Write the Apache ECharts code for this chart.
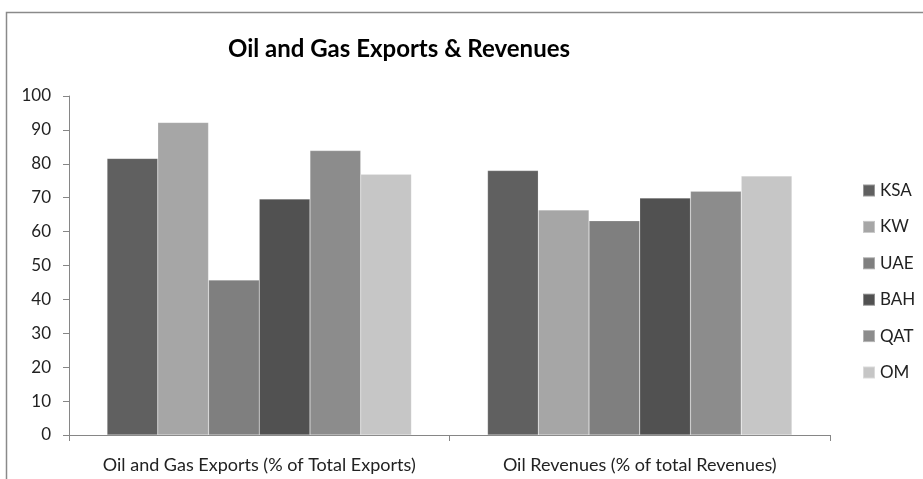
<!DOCTYPE html>
<html><head><meta charset="utf-8">
<script src="https://cdn.jsdelivr.net/npm/echarts@6/dist/echarts.min.js"></script>
<style>html,body{margin:0;padding:0;background:#fff}#c{width:923px;height:479px}</style>
</head><body><div id="c"></div>
<script>
const categories = ['Oil and Gas Exports (% of Total Exports)', 'Oil Revenues (% of total Revenues)'];
const seriesNames = ['KSA', 'KW', 'UAE', 'BAH', 'QAT', 'OM'];
const KSA = [81.6, 78.0];
const KW  = [92.2, 66.4];
const UAE = [45.7, 63.2];
const BAH = [69.6, 69.9];
const QAT = [83.9, 71.9];
const OM  = [76.9, 76.4];
const yTicks = [0, 10, 20, 30, 40, 50, 60, 70, 80, 90, 100];

const values = [KSA, KW, UAE, BAH, QAT, OM];
const colors = ['#606060', '#a6a6a6', '#7f7f7f', '#515151', '#8c8c8c', '#c6c6c6'];
const font = 'Lato, "Open Sans", sans-serif';

const chart = echarts.init(document.getElementById('c'), null, {renderer: 'canvas'});
chart.setOption({
  animation: false,
  backgroundColor: '#fff',
  graphic: [{
    type: 'rect', left: 4, top: 10,
    shape: {width: 1000, height: 1000},
    style: {fill: 'none', stroke: '#8a8a8a', lineWidth: 1.5},
    silent: true, z: -1
  }],
  title: {
    text: 'Oil and Gas Exports & Revenues',
    left: 394, textAlign: 'center', top: 32,
    textStyle: {fontFamily: font, fontWeight: 'bold', fontSize: 24, color: '#000'}
  },
  legend: {
    orient: 'vertical', left: 857, top: 177,
    itemWidth: 12, itemHeight: 12, itemGap: 19.4,
    icon: 'rect',
    textStyle: {fontFamily: font, fontSize: 17, color: '#222'},
    data: seriesNames
  },
  grid: {left: 69, right: 93, top: 96, bottom: 44, containLabel: false},
  xAxis: {
    type: 'category', data: categories,
    axisLine: {lineStyle: {color: '#868686'}},
    axisTick: {show: true, length: 6, lineStyle: {color: '#868686'}},
    axisLabel: {interval: 0, fontFamily: font, fontSize: 18, color: '#222', margin: 21}
  },
  yAxis: {
    type: 'value', min: 0, max: 100, interval: 10,
    axisLine: {show: true, lineStyle: {color: '#868686'}},
    axisTick: {show: true, length: 6, lineStyle: {color: '#868686'}},
    splitLine: {show: false},
    axisLabel: {fontFamily: font, fontSize: 17, color: '#222', margin: 18,
      formatter: v => yTicks.includes(v) ? String(v) : ''}
  },
  series: seriesNames.map((n, i) => ({
    name: n, type: 'bar', data: values[i],
    barGap: '0%', barCategoryGap: '20%',
    itemStyle: {color: colors[i], borderColor: 'rgba(255,255,255,0.35)', borderWidth: 0.5}
  }))
});
</script></body></html>
